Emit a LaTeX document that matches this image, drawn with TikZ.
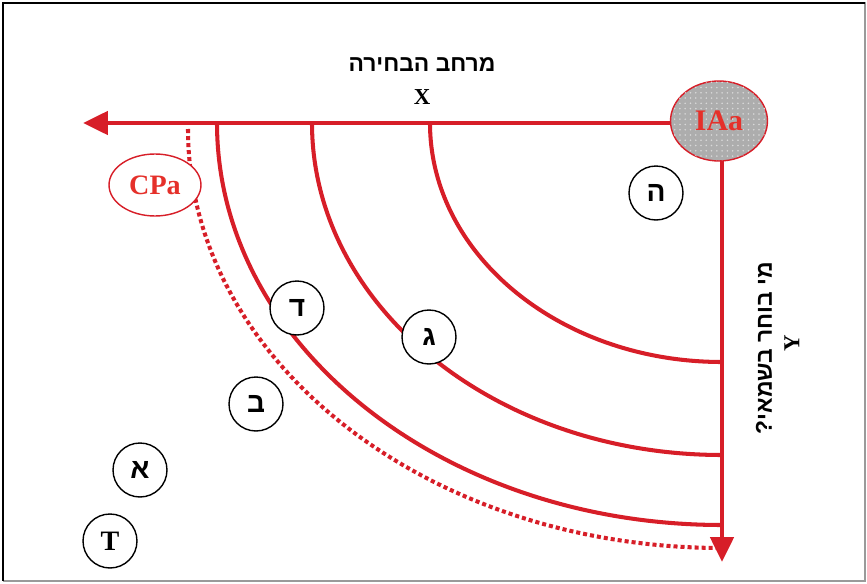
\documentclass[tikz,border=0pt]{standalone}
\usepackage{fontspec}
\setmainfont{Liberation Serif}
\newfontfamily\hebfont[Script=Hebrew]{Liberation Sans}
\TeXXeTstate=1
\usetikzlibrary{
  arrows.meta,
  shapes.geometric,
  patterns
}
\definecolor{chRed}{HTML}{D71E28}
\definecolor{chLabel}{HTML}{E5302A}
\definecolor{chFrame}{HTML}{9A9A9A}
\tikzset{
  axisarrow/.style={line width=2.8pt, chRed, -{Triangle[length=5mm, width=4.6mm]}},
  ring/.style={line width=2.3pt, chRed},
  limitring/.style={ring, dash pattern=on 2.3pt off 1.7pt},
  stage/.style={
    draw, circle, fill=white, line width=0.8pt, minimum size=10.8mm, inner sep=0pt,
    font=\fontsize{16}{16}\selectfont\bfseries
  },
  pole/.style={
    draw=chRed, ellipse, line width=0.8pt, inner sep=0pt, fill=white,
    text=chLabel, font=\fontsize{17}{17}\selectfont\bfseries
  },
  heading/.style={font=\fontsize{13}{13}\selectfont\bfseries, inner sep=1pt},
  frameline/.style={line width=0.8pt}
}

\begin{document}
\begin{tikzpicture}[x=0.02cm, y=0.02cm]
  \useasboundingbox (0,0) rectangle (867,583);
  \draw[frameline, chFrame] (3,580) -- (865,580) -- (865,2) -- (3,2);
  \draw[frameline, black] (865,580) -- (3,580) -- (3,2);

  \coordinate (origin) at (722,460);
  \coordinate (xend) at (83,460);
  \coordinate (yend) at (722,21);

  \foreach \rx/\ry in {292/239, 410/332, 505/402}
    \draw[ring] (722-\rx,460) arc[start angle=180, end angle=270, x radius=\rx, y radius=\ry];
  \draw[limitring] (722-534,454) arc[start angle=180, end angle=270, x radius=534, y radius=419];

  \draw[axisarrow] (origin) -- (xend);
  \draw[axisarrow] (origin) -- (yend);

  \node[pole, minimum width=19.4mm, minimum height=16mm, fill=black!32,
        postaction={pattern=dots, pattern color=white!85!black}] (iaa) at (719,462) {IAa};
  \node[pole, minimum width=18.4mm, minimum height=12.4mm, font=\fontsize{16}{16}\selectfont\bfseries] (cpa) at (155,398) {CPa};

  \node[stage] (he) at (656,390) {\hebfont\beginR ה\endR};
  \node[stage] (dalet) at (297,275) {\hebfont\beginR ד\endR};
  \node[stage] (gimel) at (429,246) {\hebfont\beginR ג\endR};
  \node[stage] (bet) at (256,179) {\hebfont\beginR ב\endR};
  \node[stage] (alef) at (140,113) {\hebfont\beginR א\endR};
  \node[stage] (tee) at (110,42) {T};

  \node[heading] (xtitle) at (422,518) {\hebfont\beginR מרחב הבחירה\endR};
  \node[heading] (xlabel) at (422,486) {X};
  \node[heading, rotate=90] (ytitle) at (764,235) {\hebfont\beginR מי בוחר בשמאי?\endR};
  \node[heading, rotate=90] (ylabel) at (792,240) {Y};
\end{tikzpicture}
\end{document}
